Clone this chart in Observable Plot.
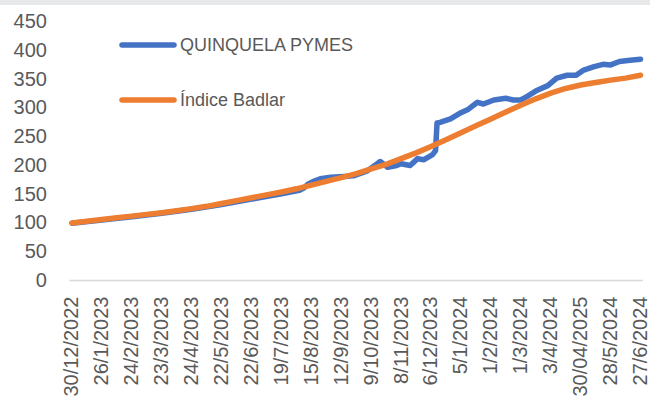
<!DOCTYPE html>
<html><head><meta charset="utf-8">
<script src="https://cdn.jsdelivr.net/npm/d3@7"></script>
<script src="https://cdn.jsdelivr.net/npm/@observablehq/plot@0.6"></script>
<style>
body{margin:0;background:#fff;width:650px;height:407px;overflow:hidden}
#strip{height:5px;background:#e7e8ea}
</style>
</head><body><div id="strip"></div><div id="chart"></div>
<script>
// category labels shown every 20 rows on the x axis
const tickLabels = ["30/12/2022","26/1/2023","24/2/2023","23/3/2023","24/4/2023","22/5/2023","22/6/2023","19/7/2023","15/8/2023","12/9/2023","9/10/2023","8/11/2023","6/12/2023","5/1/2024","1/2/2024","1/3/2024","3/4/2024","30/04/2025","28/5/2024","27/6/2024"];
const tickRows = [0,20,40,60,80,100,120,140,160,180,200,220,240,260,280,300,320,340,360,380];
const yTicks = [0,50,100,150,200,250,300,350,400,450];

// Índice Badlar (row index, value)
const badlarRows = [0,10,20,30,40,50,60,70,80,90,100,110,120,130,140,150,160,170,180,190,200,210,220,230,240,250,260,270,280,290,300,310,320,330,340,350,360,370,380];
const badlarVals = [100,103,106,109,112,115,118,121.5,125,129,134,139,144,149,154,159.5,166,172.5,179,186,194,202,212,222,233,245,257,269,281,293,305,316,326,334,340,344.5,348.5,352,357];

// QUINQUELA PYMES (row index, value)
const quinRows = [0,20,40,60,80,100,120,140,152,155,158,162,166,173,182,188,197,204,206,211,217,220,226,231,235,241,243,244,246,253,260,265,271,275,282,290,295,300,304,311,318,324,331,337,342,349,355,360,366,373,380];
const quinVals = [99.5,105,111,117,124,132,141.5,151,157,161,168,173,177,179.5,181,182,190,203,207,197,200,203,200,212,210,219,226,274,275,281,292,298,310,307,314,317,314,314,320,331,339,352,357,357,366,372,376,375,381,383,385];

const seriesNames = ["QUINQUELA PYMES","Índice Badlar"];
const colors = ["#4472C4","#ED7D31"];

const badlar = badlarRows.map((r,i)=>({row:r, value:badlarVals[i]}));
const quin = quinRows.map((r,i)=>({row:r, value:quinVals[i]}));

const font = "'Liberation Sans', Arial, sans-serif";
const chart = Plot.plot({
  width: 650, height: 402,
  marginLeft: 69.4, marginRight: 7, marginTop: 16.3, marginBottom: 127,
  style: {fontFamily: font, color: "#595959", background: "white"},
  x: {domain: [-1.4, 382], axis: null},
  y: {domain: [0, 450], axis: null},
  marks: [
    Plot.ruleY([0], {stroke: "#d9d9d9", strokeWidth: 1.5}),
    Plot.axisY({ticks: yTicks, tickSize: 0, tickPadding: 23, fontSize: 20, fill: "#595959", label: null}),
    Plot.line(quin, {x: "row", y: "value", stroke: colors[0], strokeWidth: 5.5, strokeLinejoin: "round", strokeLinecap: "round"}),
    Plot.line(badlar, {x: "row", y: "value", stroke: colors[1], strokeWidth: 5.5, strokeLinejoin: "round", strokeLinecap: "round"}),
    Plot.text(tickLabels, {x: (d,i) => tickRows[i], text: d => d, frameAnchor: "bottom", rotate: -90, textAnchor: "end", lineAnchor: "middle", dy: 16, fontSize: 20, fill: "#595959"})
  ]
});
document.getElementById("chart").appendChild(chart);

// in-chart legend
const svg = d3.select(chart);
const legendY = [40, 95];
seriesNames.forEach((name, i) => {
  const g = svg.append("g");
  g.append("line").attr("x1", 122).attr("x2", 174).attr("y1", legendY[i]).attr("y2", legendY[i])
    .attr("stroke", colors[i]).attr("stroke-width", 5.5).attr("stroke-linecap", "round");
  g.append("text").attr("x", 180).attr("y", legendY[i]).attr("dy", "0.35em")
    .attr("text-anchor", "start")
    .attr("font-family", font).attr("font-size", 18).attr("fill", "#595959").text(name);
});
</script>
</body></html>
